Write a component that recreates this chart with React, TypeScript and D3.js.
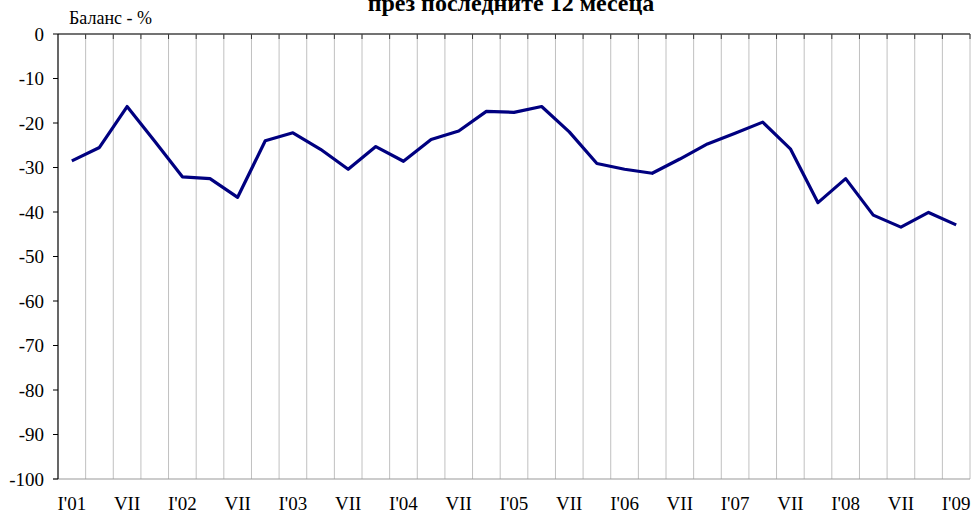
import React from "react";
import * as d3 from "d3";

const categories: string[] = [
  "I'01", "II'01", "VII", "IV'01",
  "I'02", "II'02", "VII", "IV'02",
  "I'03", "II'03", "VII", "IV'03",
  "I'04", "II'04", "VII", "IV'04",
  "I'05", "II'05", "VII", "IV'05",
  "I'06", "II'06", "VII", "IV'06",
  "I'07", "II'07", "VII", "IV'07",
  "I'08", "II'08", "VII", "IV'08",
  "I'09",
];

const balance: number[] = [
  -28.5, -25.5, -16.3, -24.1,
  -32.1, -32.5, -36.7, -24.0,
  -22.2, -25.9, -30.4, -25.3,
  -28.6, -23.7, -21.8, -17.4,
  -17.6, -16.3, -22.0, -29.1,
  -30.4, -31.3, -28.1, -24.7,
  -22.3, -19.8, -25.8, -37.9,
  -32.5, -40.7, -43.4, -40.1,
  -42.9,
];

const yTicks: number[] = [0, -10, -20, -30, -40, -50, -60, -70, -80, -90, -100];

const title = "през последните 12 месеца";
const yLabel = "Баланс - %";

export default function App() {
  const W = 971;
  const H = 514;
  const left = 58;
  const right = 970;
  const top = 34;
  const bottom = 479;

  const x = d3
    .scaleBand<number>()
    .domain(d3.range(categories.length))
    .range([left, right])
    .paddingInner(0)
    .paddingOuter(0);
  const y = d3.scaleLinear().domain([-100, 0]).range([bottom, top]);

  const cx = (i: number) => (x(i) as number) + x.bandwidth() / 2;

  const line = d3
    .line<number>()
    .x((_, i) => cx(i))
    .y((d) => y(d));

  const boundaries = d3.range(1, categories.length + 1).map((i) => left + i * x.bandwidth());

  const ff = { fontFamily: "'Liberation Serif', 'DejaVu Serif', serif" };

  return (
    <svg
      width={W}
      height={H}
      style={{ position: "absolute", left: 0, top: 0, background: "#fff" }}
    >
      <text x={511} y={11} textAnchor="middle" fontSize={24} fontWeight="bold" fill="#000" style={ff}>
        {title}
      </text>
      <text x={69} y={24} fontSize={18} fill="#000" style={ff}>
        {yLabel}
      </text>

      {boundaries.map((bx, i) => (
        <line key={"g" + i} x1={bx} x2={bx} y1={top} y2={bottom} stroke="#c0c0c0" strokeWidth={1} />
      ))}
      {boundaries.map((bx, i) => (
        <line key={"t" + i} x1={bx} x2={bx} y1={top} y2={top + 5} stroke="#333" strokeWidth={1} />
      ))}

      <line x1={left - 5} x2={right} y1={bottom} y2={bottom} stroke="#999" strokeWidth={1.2} />
      <line x1={left} x2={right} y1={top} y2={top} stroke="#444" strokeWidth={1.5} />
      <line x1={left} x2={left} y1={top} y2={bottom} stroke="#000" strokeWidth={1.2} />

      {yTicks.map((t) => (
        <g key={"y" + t}>
          <line x1={left - 5} x2={left} y1={y(t)} y2={y(t)} stroke="#000" strokeWidth={1} />
          <text x={44} y={y(t)} dy="0.35em" textAnchor="end" fontSize={19} fill="#000" style={ff}>
            {t}
          </text>
        </g>
      ))}

      {categories.map((c, i) =>
        i % 2 === 0 ? (
          <text key={"x" + i} x={cx(i)} y={510} textAnchor="middle" fontSize={19} fill="#000" style={ff}>
            {c}
          </text>
        ) : null
      )}

      <path d={line(balance) || ""} fill="none" stroke="#000080" strokeWidth={3.2} strokeLinejoin="round" />
    </svg>
  );
}
